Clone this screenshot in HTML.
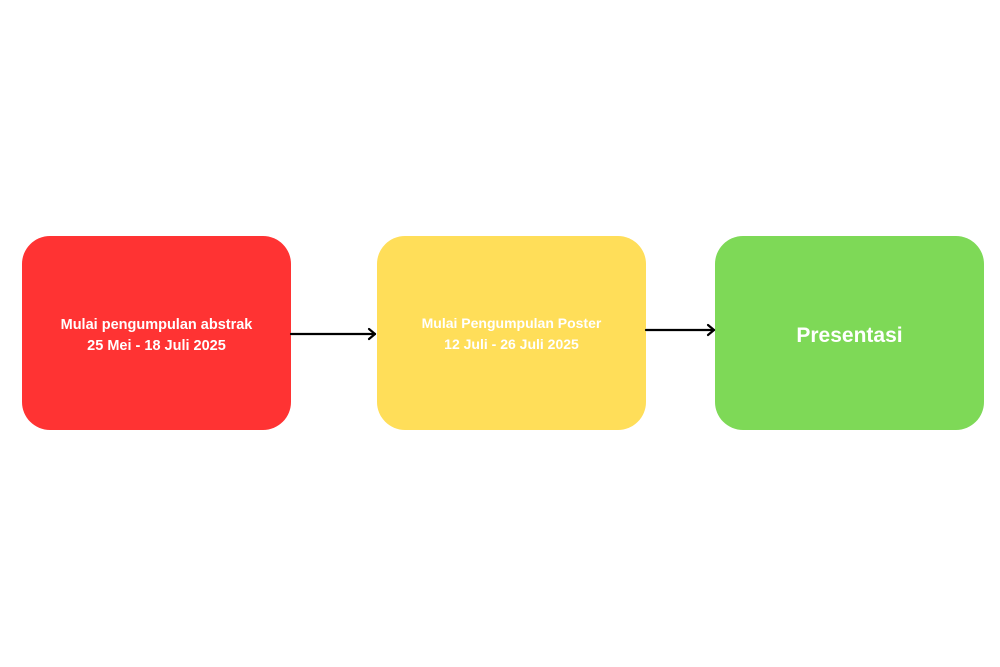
<!DOCTYPE html>
<html><head><style>
body{margin:0;width:1000px;height:667px;background:#fff;position:relative;overflow:hidden;font-family:"Liberation Sans",sans-serif}
.b{position:absolute;top:236px;height:194px;width:269px;border-radius:28px;display:flex;align-items:center;justify-content:center;text-align:center;color:#fff;font-weight:bold;box-sizing:border-box}
</style></head><body>
<div class="b" style="left:22px;background:#ff3333;font-size:14.5px;line-height:21px;padding-top:5px">Mulai pengumpulan abstrak<br>25 Mei - 18 Juli 2025</div>
<div class="b" style="left:377px;background:#ffde59;font-size:14px;line-height:21px;padding-top:1px">Mulai Pengumpulan Poster<br>12 Juli - 26 Juli 2025</div>
<div class="b" style="left:715px;background:#7ed957;font-size:21px;padding-top:5px">Presentasi</div>
<svg width="1000" height="667" style="position:absolute;left:0;top:0">
<g stroke="#000" stroke-width="2.2" fill="none" stroke-linecap="round" stroke-linejoin="round">
<line x1="291" y1="334" x2="375" y2="334"/><polyline points="369,329 375,334 369,339"/>
<line x1="646" y1="330" x2="714" y2="330"/><polyline points="708,325 714,330 708,335"/>
</g></svg>
</body></html>
